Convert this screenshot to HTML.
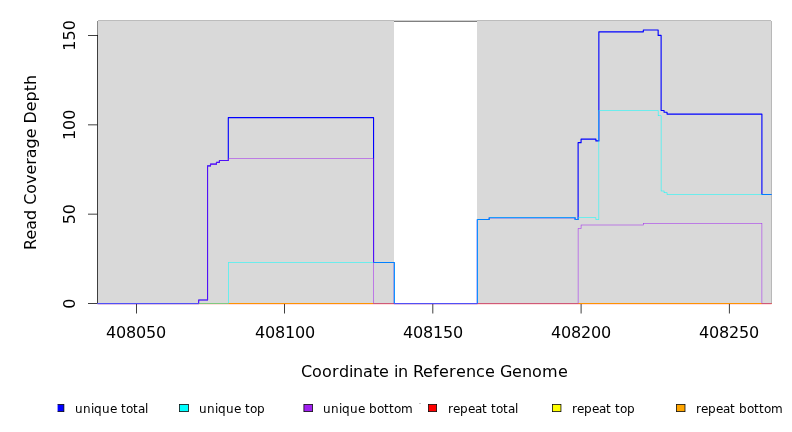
<!DOCTYPE html><html><head><meta charset="utf-8"><title>Read Coverage Depth</title>
<style>html,body{margin:0;padding:0;background:#fff}svg{display:block}text{font-family:'DejaVu Sans','Liberation Sans',sans-serif;fill:#000}</style></head><body>
<svg width="792" height="432" viewBox="0 0 792 432">
<rect width="792" height="432" fill="#fff"/>
<defs><clipPath id="c"><rect x="97.45" y="20.20" width="674.10" height="284.20"/></clipPath></defs>
<rect x="97.95" y="21" width="296.05" height="282.60" fill="#d9d9d9"/>
<rect x="477.00" y="21" width="294.55" height="282.60" fill="#d9d9d9"/>
<rect x="98" y="20" width="296.00" height="1" fill="#bcbcbc"/>
<rect x="477.00" y="20" width="294.00" height="1" fill="#bcbcbc"/>
<rect x="394.00" y="20" width="83.00" height="1" fill="#d0d0d0"/>
<rect x="394.00" y="21" width="83.00" height="1" fill="#808080"/>
<rect x="97" y="21" width="1" height="15" fill="#8a8a8a"/>
<rect x="771" y="21" width="1" height="283" fill="#b8b8b8"/>
<path fill="#000" d="M97.075 35.025H97.825V303.975H97.075ZM88.000 303.225H97.450V303.975H88.000ZM88.000 213.825H97.450V214.575H88.000ZM88.000 124.425H97.450V125.175H88.000ZM88.000 35.025H97.450V35.775H88.000ZM136.025 303.225H729.675V303.975H136.025ZM136.025 303.600H136.775V313.450H136.025ZM284.250 303.600H285.000V313.450H284.250ZM432.475 303.600H433.225V313.450H432.475ZM580.700 303.600H581.450V313.450H580.700ZM728.925 303.600H729.675V313.450H728.925Z"/>
<text x="106 116 126 136 146 156" y="337.6" font-size="16">408050</text>
<text x="255 265 275 285 295 305" y="337.6" font-size="16">408100</text>
<text x="403 413 423 433 443 453" y="337.6" font-size="16">408150</text>
<text x="551 561 571 581 591 601" y="337.6" font-size="16">408200</text>
<text x="699 709 719 729 739 749" y="337.6" font-size="16">408250</text>
<text transform="translate(74.6 303.60) rotate(-90)" font-size="16" text-anchor="middle">0</text>
<text transform="translate(74.6 214.20) rotate(-90)" font-size="16" text-anchor="middle">50</text>
<text transform="translate(74.6 124.80) rotate(-90)" font-size="16" text-anchor="middle">100</text>
<text transform="translate(74.6 35.40) rotate(-90)" font-size="16" text-anchor="middle">150</text>
<text x="301 312 322 332 339 349 353 363 373 379 389 394 398 408 413 423 433 439 449 456 466 476 485 495 500 512 522 532 542 558" y="377" font-size="16">Coordinate in Reference Genome</text>
<text transform="translate(36 162.45) rotate(-90)" font-size="15.93" text-anchor="middle">Read Coverage Depth</text>
<g clip-path="url(#c)" fill="none" stroke-linejoin="round" stroke-linecap="round"><path d="M77.11 303.60H788.59" stroke="#ff0000" stroke-width="1.125"/><path d="M76.85 303.34H788.85V303.86H76.85Z" fill="#ffff00" stroke="none"/><path d="M76.85 303.34H788.85V303.86H76.85Z" fill="#ffa500" stroke="none"/><path d="M77.11 303.60H198.65V300.02H207.55V165.92H210.51V164.14H216.44V162.35H219.41V160.56H228.30V117.65H373.56V262.48H394.31V303.60H477.32V219.56H489.18V217.78H575.15V219.56H578.11V142.68H581.08V139.10H595.90V140.89H598.86V31.82H643.33V30.04H658.15V35.40H661.12V110.50H664.08V112.28H667.05V114.07H761.91V194.53H788.59" stroke="#0000ff" stroke-width="1.125"/><path d="M76.85 303.34H228.56V303.86H76.85ZM228.04 262.21H228.56V303.86H228.04ZM228.04 262.21H394.57V262.74H228.04ZM394.05 262.21H394.57V303.86H394.05ZM394.05 303.34H477.58V303.86H394.05ZM477.06 219.30H477.58V303.86H477.06ZM477.06 219.30H489.44V219.83H477.06ZM488.91 217.51H489.44V219.83H488.91ZM488.91 217.51H575.41V218.04H488.91ZM574.88 217.51H575.41V219.83H574.88ZM574.88 219.30H578.37V219.83H574.88ZM577.85 217.51H578.37V219.83H577.85ZM577.85 217.51H596.16V218.04H577.85ZM595.63 217.51H596.16V219.83H595.63ZM595.63 219.30H599.12V219.83H595.63ZM598.60 110.23H599.12V219.83H598.60ZM598.60 110.23H658.41V110.76H598.60ZM657.89 110.23H658.41V116.12H657.89ZM657.89 115.60H661.38V116.12H657.89ZM660.85 115.60H661.38V191.22H660.85ZM660.85 190.69H664.34V191.22H660.85ZM663.82 190.69H664.34V193.01H663.82ZM663.82 192.48H667.31V193.01H663.82ZM666.78 192.48H667.31V194.79H666.78ZM666.78 194.27H788.85V194.79H666.78Z" fill="#00ffff" stroke="none"/><path d="M76.85 303.34H198.92V303.86H76.85ZM198.39 299.76H198.92V303.86H198.39ZM198.39 299.76H207.81V300.29H198.39ZM207.29 165.66H207.81V300.29H207.29ZM207.29 165.66H210.77V166.19H207.29ZM210.25 163.87H210.77V166.19H210.25ZM210.25 163.87H216.70V164.40H210.25ZM216.18 162.09H216.70V164.40H216.18ZM216.18 162.09H219.67V162.61H216.18ZM219.14 160.30H219.67V162.61H219.14ZM219.14 160.30H228.56V160.82H219.14ZM228.04 158.51H228.56V160.82H228.04ZM228.04 158.51H373.82V159.03H228.04ZM373.30 158.51H373.82V303.86H373.30ZM373.30 303.34H578.37V303.86H373.30ZM577.85 228.24H578.37V303.86H577.85ZM577.85 228.24H581.34V228.77H577.85ZM580.81 224.67H581.34V228.77H580.81ZM580.81 224.67H643.59V225.19H580.81ZM643.07 222.88H643.59V225.19H643.07ZM643.07 222.88H762.17V223.40H643.07ZM761.65 222.88H762.17V303.86H761.65ZM761.65 303.34H788.85V303.86H761.65Z" fill="#a020f0" stroke="none"/></g>
<defs><clipPath id="lc"><rect x="57.6" y="390" width="740" height="42"/></clipPath></defs>
<g clip-path="url(#lc)"><rect x="55.30" y="404.45" width="8.60" height="7.10" fill="#0000ff"/><path fill="#000" fill-rule="evenodd" d="M54.925 404.075H64.275V411.925H54.925ZM55.675 404.825H63.525V411.175H55.675Z"/></g>
<text x="75 83 91 94 102 110 117 121 126 133 138 145" y="412.7" font-size="12">unique total</text>
<g clip-path="url(#lc)"><rect x="179.45" y="404.45" width="8.95" height="7.10" fill="#00ffff"/><path fill="#000" fill-rule="evenodd" d="M179.075 404.075H188.775V411.925H179.075ZM179.825 404.825H188.025V411.175H179.825Z"/></g>
<text x="199 207 215 218 226 234 241 245 250 257" y="412.7" font-size="12">unique top</text>
<g clip-path="url(#lc)"><rect x="303.90" y="404.45" width="8.60" height="7.10" fill="#a020f0"/><path fill="#000" fill-rule="evenodd" d="M303.525 404.075H312.875V411.925H303.525ZM304.275 404.825H312.125V411.175H304.275Z"/></g>
<text x="323 331 339 342 350 358 365 369 377 384 389 394 401" y="412.7" font-size="12">unique bottom</text>
<g clip-path="url(#lc)"><rect x="428.35" y="404.45" width="8.30" height="7.10" fill="#ff0000"/><path fill="#000" fill-rule="evenodd" d="M427.975 404.075H437.025V411.925H427.975ZM428.725 404.825H436.275V411.175H428.725Z"/></g>
<text x="448 453 460 468 475 482 487 491 496 503 508 515" y="412.7" font-size="12">repeat total</text>
<g clip-path="url(#lc)"><rect x="552.40" y="404.45" width="8.55" height="7.10" fill="#ffff00"/><path fill="#000" fill-rule="evenodd" d="M552.025 404.075H561.325V411.925H552.025ZM552.775 404.825H560.575V411.175H552.775Z"/></g>
<text x="572 577 584 592 599 606 611 615 620 627" y="412.7" font-size="12">repeat top</text>
<g clip-path="url(#lc)"><rect x="676.45" y="404.45" width="8.55" height="7.10" fill="#ffa500"/><path fill="#000" fill-rule="evenodd" d="M676.075 404.075H685.375V411.925H676.075ZM676.825 404.825H684.625V411.175H676.825Z"/></g>
<text x="696 701 708 716 723 730 735 739 747 754 759 764 771" y="412.7" font-size="12">repeat bottom</text>
<rect x="419" y="403" width="2" height="1" fill="#c8c8c8"/>
</svg></body></html>
